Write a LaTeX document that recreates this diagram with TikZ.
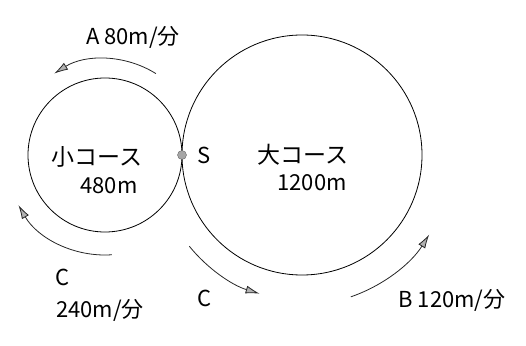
\documentclass[tikz,border=0pt]{standalone}
\usepackage{fontspec}
\setmainfont{Noto Sans CJK JP}
\usetikzlibrary{arrows.meta}

\begin{document}
\begin{tikzpicture}[x=1pt,y=1pt,
  run/.style={thick,black!85,-{Latex[length=14pt,width=8pt,fill=gray!60]}},
  lbl/.style={font=\fontsize{22}{24}\selectfont},
  jp/.style={font=\fontsize{23}{25}\selectfont}]
  \useasboundingbox (0,0) rectangle (526,345);
  \def\rsmall{77}
  \def\rbig{120}
  % The two courses touch at the start point S.
  \coordinate (small) at (105,190);
  \coordinate (big) at (302,190);
  \coordinate (S) at (182,190);
  \draw[thick] (small) circle[radius=\rsmall];
  \draw[thick] (big) circle[radius=\rbig];
  \fill[gray!70,draw=black!60] (S) circle[radius=4.5];
  \node[lbl] (startlbl) at (204,190) {S};
  \node[jp] (smallname) at (97,188) {小コース};
  \node[lbl] (smalllen) at (109,159) {480m};
  \node[jp] (bigname) at (303,190) {大コース};
  \node[lbl] (biglen) at (312,162) {1200m};
  % Runners go round the courses in the arrow directions.
  \draw[run] (small) ++(58:96) arc[start angle=58,end angle=122,radius=96];
  \draw[run] (small) ++(-86:100) arc[start angle=-86,end angle=-150,radius=100];
  \draw[run] (big) ++(-141:145) arc[start angle=-141,end angle=-107,radius=145];
  \draw[run] (big) ++(-71:150) arc[start angle=-71,end angle=-32,radius=150];
  \node[lbl] (speedA) at (133,308) {A 80m/分};
  \node[lbl] (runC) at (63,68) {C};
  \node[lbl] (speedC) at (100,35) {240m/分};
  \node[lbl] (runCbig) at (205,47) {C};
  \node[lbl] (speedB) at (452,45) {B 120m/分};
\end{tikzpicture}
\end{document}
